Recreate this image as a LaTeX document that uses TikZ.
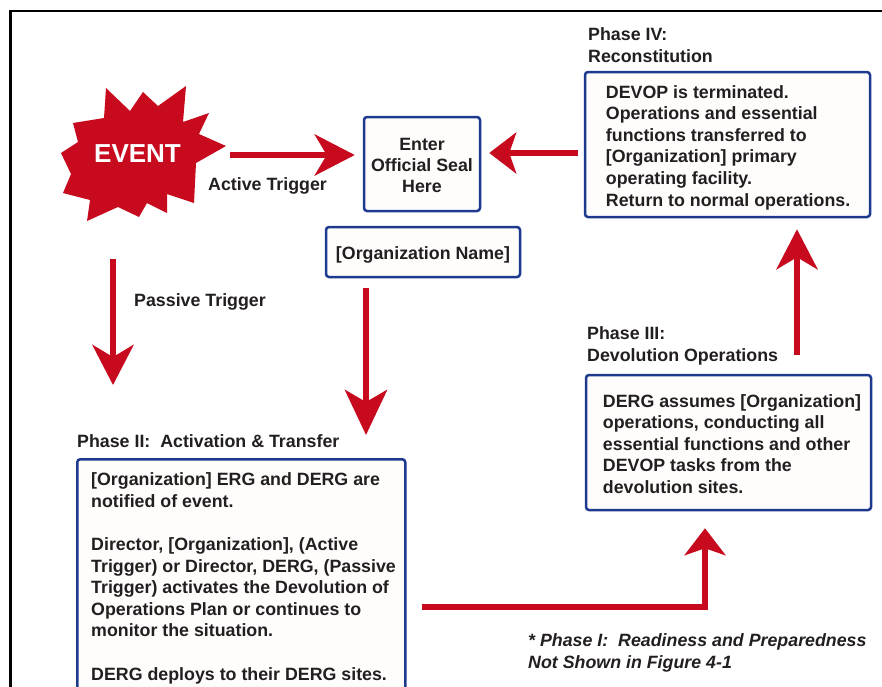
\documentclass[tikz,border=0pt]{standalone}
\usepackage{fontspec}
\setmainfont{Liberation Sans}
\usetikzlibrary{arrows.meta}
\definecolor{alertred}{HTML}{C70A1E}
\definecolor{boxblue}{HTML}{1D3A8F}
\definecolor{ink}{HTML}{231F20}
\definecolor{paper}{HTML}{FEFDFC}

\begin{document}
\begin{tikzpicture}[x=1pt,y=-1pt,
  txt/.style={font=\fontsize{17.8}{21.6}\selectfont\bfseries, text=ink, inner sep=0pt, align=left},
  phasebox/.style={draw=boxblue, line width=2.5pt, rounded corners=3pt, fill=paper, inner sep=0pt},
  flow/.style={draw=alertred, line width=6.5pt},
  bighead/.style={-{Stealth[length=40pt,width=41pt,inset=12pt]}},
  smallhead/.style={-{Stealth[length=27pt,width=41pt,inset=7pt]}},
]
\clip (0,0) rectangle (882,686);
\fill[white] (0,0) rectangle (882,686);

% outer frame
\draw[line width=2.7pt] (10.5,700) -- (10.5,11) -- (895,11);

% event burst
\fill[alertred] (106,88) -- (130,111) -- (143,92) -- (158,106) -- (186,86)
  -- (183,122) -- (209,113) -- (199,134) -- (226,146) -- (196,163)
  -- (194,203) -- (167,194) -- (167,213) -- (147,203) -- (139,217)
  -- (118,207) -- (87,221) -- (90,200) -- (63,193) -- (71,174)
  -- (61,153) -- (78,142) -- (73,123) -- (104,118) -- cycle;
\node[font=\fontsize{26}{26}\selectfont\bfseries, text=white, inner sep=0pt] (event) at (137.5,154) {EVENT};

% boxes (yshift is measured upward, so text is nudged down with negative values)
\node[phasebox, minimum width=116pt, minimum height=94pt] (seal) at (422,164) {};
\node[txt, align=center, font=\fontsize{17.8}{21}\selectfont\bfseries] (sealtext) at ([yshift=-1.5pt]seal.center) {Enter\\Official Seal\\Here};

\node[phasebox, minimum width=194pt, minimum height=50pt] (org) at (423,252) {};
\node[txt] (orgtext) at ([yshift=-3pt]org.center) {{[}Organization Name{]}};

\node[phasebox, minimum width=285pt, minimum height=145pt] (p4box) at (727.5,144.5) {};
\node[txt, anchor=west] (p4text) at ([xshift=22pt,yshift=-3pt]p4box.west) {DEVOP is terminated.\\Operations and essential\\functions transferred to\\{[}Organization{]} primary\\operating facility.\\Return to normal operations.};
\node[txt, anchor=west] (p4label) at (588,45) {Phase IV:\\Reconstitution};

\node[phasebox, minimum width=285pt, minimum height=135pt] (p3box) at (728.5,442.5) {};
\node[txt, anchor=west] (p3text) at ([xshift=18pt,yshift=-1.5pt]p3box.west) {DERG assumes {[}Organization{]}\\operations, conducting all\\essential functions and other\\DEVOP tasks from the\\devolution sites.};
\node[txt, anchor=west] (p3label) at (587,346) {Phase III:\\Devolution Operations};

\node[phasebox, anchor=north west, minimum width=328pt, minimum height=260pt] (p2box) at (76,458) {};
\node[txt, anchor=north west] (p2text) at (91,472.5) {{[}Organization{]} ERG and DERG are\\notified of event.\\[21.6pt]Director, {[}Organization{]}, (Active\\Trigger) or Director, DERG, (Passive\\Trigger) activates the Devolution of\\Operations Plan or continues to\\monitor the situation.\\[21.6pt]DERG deploys to their DERG sites.};
\node[txt, anchor=west] (p2label) at (77,441) {Phase II:\ \ Activation \& Transfer};

% free labels
\node[txt, anchor=west] (activelbl) at (208,185.5) {Active Trigger};
\node[txt, anchor=west] (passivelbl) at (134,301.5) {Passive Trigger};
\node[txt, anchor=west, font=\fontsize{17.8}{21.6}\selectfont\bfseries\itshape] (note) at (528,653) {* Phase I:\ \ Readiness and Preparedness\\Not Shown in Figure 4-1};

% connectors
\coordinate (evR) at (230,155);
\coordinate (p4L) at (578,153);
\coordinate (passTop) at (113,259);
\coordinate (passEnd) at (113,385);
\coordinate (orgLow) at (366,288);
\coordinate (orgEnd) at (366,435);
\coordinate (p3Up) at (797,355);
\coordinate (p2R) at (422,607);
\coordinate (bend) at (705,607);

\draw[flow, bighead, shorten >=8pt] (evR) -- (evR -| seal.west);
\draw[flow, smallhead, shorten >=8pt] (p4L) -- (p4L -| seal.east);
\draw[flow, bighead] (passTop) -- (passEnd);
\draw[flow, -{Stealth[length=45pt,width=42pt,inset=12pt]}] (orgLow) -- (orgEnd);
\draw[flow, bighead, shorten >=11pt] (p3Up) -- (p3Up |- p4box.south);
\draw[flow, smallhead, shorten >=17pt] (p2R) -- (bend) -- (bend |- p3box.south);
\end{tikzpicture}
\end{document}
